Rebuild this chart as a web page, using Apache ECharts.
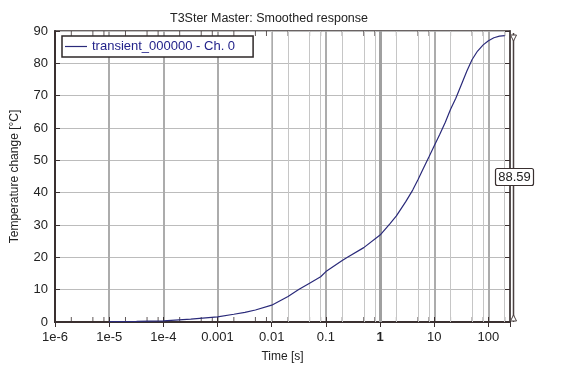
<!DOCTYPE html>
<html><head><meta charset="utf-8">
<script src="https://cdn.jsdelivr.net/npm/echarts@6/dist/echarts.min.js"></script>
<style>html,body{margin:0;padding:0;background:#fff}#c{width:565px;height:373px}</style>
</head><body><div id="c"></div>
<script>
const times = [1e-5, 3.2e-5, 1e-4, 3.2e-4, 1e-3, 2e-3, 3.2e-3, 5e-3, 0.01, 0.02, 0.032, 0.05, 0.08, 0.1, 0.2, 0.25, 0.5, 1, 1.5, 2, 3, 4, 5, 6, 8, 10, 12.6, 16, 20, 25, 32, 40, 50, 63, 80, 100, 126, 160, 200];
const temps = [0.1, 0.2, 0.35, 0.9, 1.6, 2.4, 3.0, 3.7, 5.2, 7.9, 10.1, 12.0, 14.0, 15.6, 19.0, 20.0, 23.0, 26.9, 30.3, 32.8, 37.3, 40.8, 44.0, 46.8, 51.1, 54.5, 58.0, 61.8, 65.8, 69.2, 73.6, 77.6, 81.2, 83.8, 85.7, 87.0, 87.9, 88.4, 88.59];
const xTickValues = [1e-6, 1e-5, 1e-4, 0.001, 0.01, 0.1, 1, 10, 100];
const xTickLabels = ['1e-6', '1e-5', '1e-4', '0.001', '0.01', '0.1', '1', '10', '100'];
const minorFactors = [2, 5, 8];
const xMin = 1e-6, xMax = 250;
const yMin = 0, yMax = 90, yStep = 10;
const seriesName = 'transient_000000 - Ch. 0';
const cursorValue = '88.59';
const titleText = 'T3Ster Master: Smoothed response';
const xName = 'Time [s]';
const yName = 'Temperature change [°C]';

const FONT = '"Liberation Sans", Arial, sans-serif';
const minorXs = [];
xTickValues.forEach(d => minorFactors.forEach(f => { const v = d * f; if (v < xMax) minorXs.push(v); }));

const chart = echarts.init(document.getElementById('c'), null, {renderer: 'canvas'});
const pts = times.map((t, i) => [t, temps[i]]);

chart.setOption({
  animation: false,
  backgroundColor: '#fff',
  textStyle: {fontFamily: FONT},
  title: {text: titleText, left: 165, top: 7, textStyle: {fontSize: 12.5, fontWeight: 'normal', color: '#222', fontFamily: FONT}},
  legend: {
    data: [seriesName], left: 62, top: 36, orient: 'vertical',
    icon: 'path://M0,5.4 L22,5.4 L22,6.6 L0,6.6 Z',
    padding: [4, 18, 4, 3], itemWidth: 22, itemHeight: 12, itemGap: 0,
    backgroundColor: '#fff', borderColor: '#2e2828', borderWidth: 1.5,
    textStyle: {color: '#23238a', fontSize: 13, fontFamily: FONT}
  },
  grid: {left: 55, top: 31, width: 455, height: 291, show: true, borderColor: '#3a3030', borderWidth: 1.5, backgroundColor: 'transparent'},
  xAxis: [{
    type: 'log', logBase: 10, min: xMin, max: xMax,
    name: xName, nameLocation: 'middle', nameGap: 29,
    nameTextStyle: {fontSize: 12, color: '#222', fontFamily: FONT},
    axisLine: {show: true, lineStyle: {color: '#3a3030', width: 2}},
    axisTick: {show: true, inside: true, length: 5, lineStyle: {color: '#3a3030'}},
    axisLabel: {
      margin: 9, fontSize: 13, color: '#222', fontFamily: FONT, showMaxLabel: false,
      formatter: function (v) {
        for (let i = 0; i < xTickValues.length; i++) {
          if (Math.abs(Math.log10(v) - Math.log10(xTickValues[i])) < 1e-6) {
            return xTickValues[i] === 1 ? '{b|' + xTickLabels[i] + '}' : xTickLabels[i];
          }
        }
        return '';
      },
      rich: {b: {fontWeight: 'bold', fontSize: 13, color: '#222', fontFamily: FONT}}
    },
    splitLine: {show: true, lineStyle: {color: '#acacac', width: 2}}
  }, {
    type: 'log', logBase: 10, min: xMin, max: xMax, position: 'top',
    axisLine: {show: true, lineStyle: {color: '#3a3030', width: 2}},
    axisTick: {show: true, inside: true, length: 5, lineStyle: {color: '#3a3030'}},
    axisLabel: {show: false}, splitLine: {show: false}
  }],
  yAxis: [{
    type: 'value', min: yMin, max: yMax, interval: yStep,
    name: yName, nameLocation: 'middle', nameGap: 34,
    nameTextStyle: {fontSize: 12, color: '#222', fontFamily: FONT},
    axisLine: {show: true, lineStyle: {color: '#3a3030', width: 2}},
    axisTick: {show: true, inside: true, length: 5, lineStyle: {color: '#3a3030'}},
    axisLabel: {margin: 7, fontSize: 13, color: '#222', fontFamily: FONT},
    splitLine: {show: true, lineStyle: {color: '#bcbcbc', width: 1}}
  }, {
    type: 'value', min: yMin, max: yMax, interval: yStep, position: 'right',
    axisLine: {show: true, lineStyle: {color: '#3a3030', width: 1.5}},
    axisTick: {show: true, inside: true, length: 5, lineStyle: {color: '#3a3030'}},
    axisLabel: {show: false}, splitLine: {show: false}
  }],
  series: [
    {
      type: 'scatter', data: [], z: 1, silent: true,
      markLine: {
        silent: true, symbol: 'none', label: {show: false}, animation: false,
        lineStyle: {color: '#c6c6c6', width: 1, type: 'solid'},
        data: minorXs.map(v => ({xAxis: v})).concat([{xAxis: 1, lineStyle: {color: '#a0a0a0', width: 3, type: 'solid'}}])
      }
    },
    {
      type: 'scatter', silent: true, z: 4, clip: false,
      symbol: 'rect', symbolSize: [1, 5], symbolOffset: [0, -2.5],
      itemStyle: {color: '#3a3030'},
      data: minorXs.map(v => [v, yMin])
    },
    {
      type: 'scatter', silent: true, z: 4, clip: false,
      symbol: 'rect', symbolSize: [1, 5], symbolOffset: [0, 2.5],
      itemStyle: {color: '#3a3030'},
      data: minorXs.map(v => [v, yMax])
    },
    {
      name: seriesName, type: 'line', z: 5, data: pts, showSymbol: false, symbol: 'none', smooth: false,
      lineStyle: {color: '#2a2a7a', width: 1.2}, itemStyle: {color: '#2a2a7a'}
    }
  ],
  graphic: [
    {type: 'line', shape: {x1: 513.5, y1: 33, x2: 513.5, y2: 322}, style: {stroke: '#4a4040', lineWidth: 1.5}},
    {type: 'polygon', shape: {points: [[510.5, 35], [516.5, 35], [513.5, 41]]}, style: {fill: '#fff', stroke: '#4a4040', lineWidth: 1}},
    {type: 'polygon', shape: {points: [[510.5, 321], [516.5, 321], [513.5, 315]]}, style: {fill: '#fff', stroke: '#4a4040', lineWidth: 1}},
    {type: 'rect', shape: {x: 495.5, y: 168.5, width: 38, height: 17, r: 2}, style: {fill: '#fff', stroke: '#3a3030', lineWidth: 1.2}, z: 10},
    {type: 'text', x: 514.5, y: 177, z: 11, style: {text: cursorValue, fill: '#222', font: '13px ' + FONT, align: 'center', verticalAlign: 'middle'}}
  ]
});
</script></body></html>
